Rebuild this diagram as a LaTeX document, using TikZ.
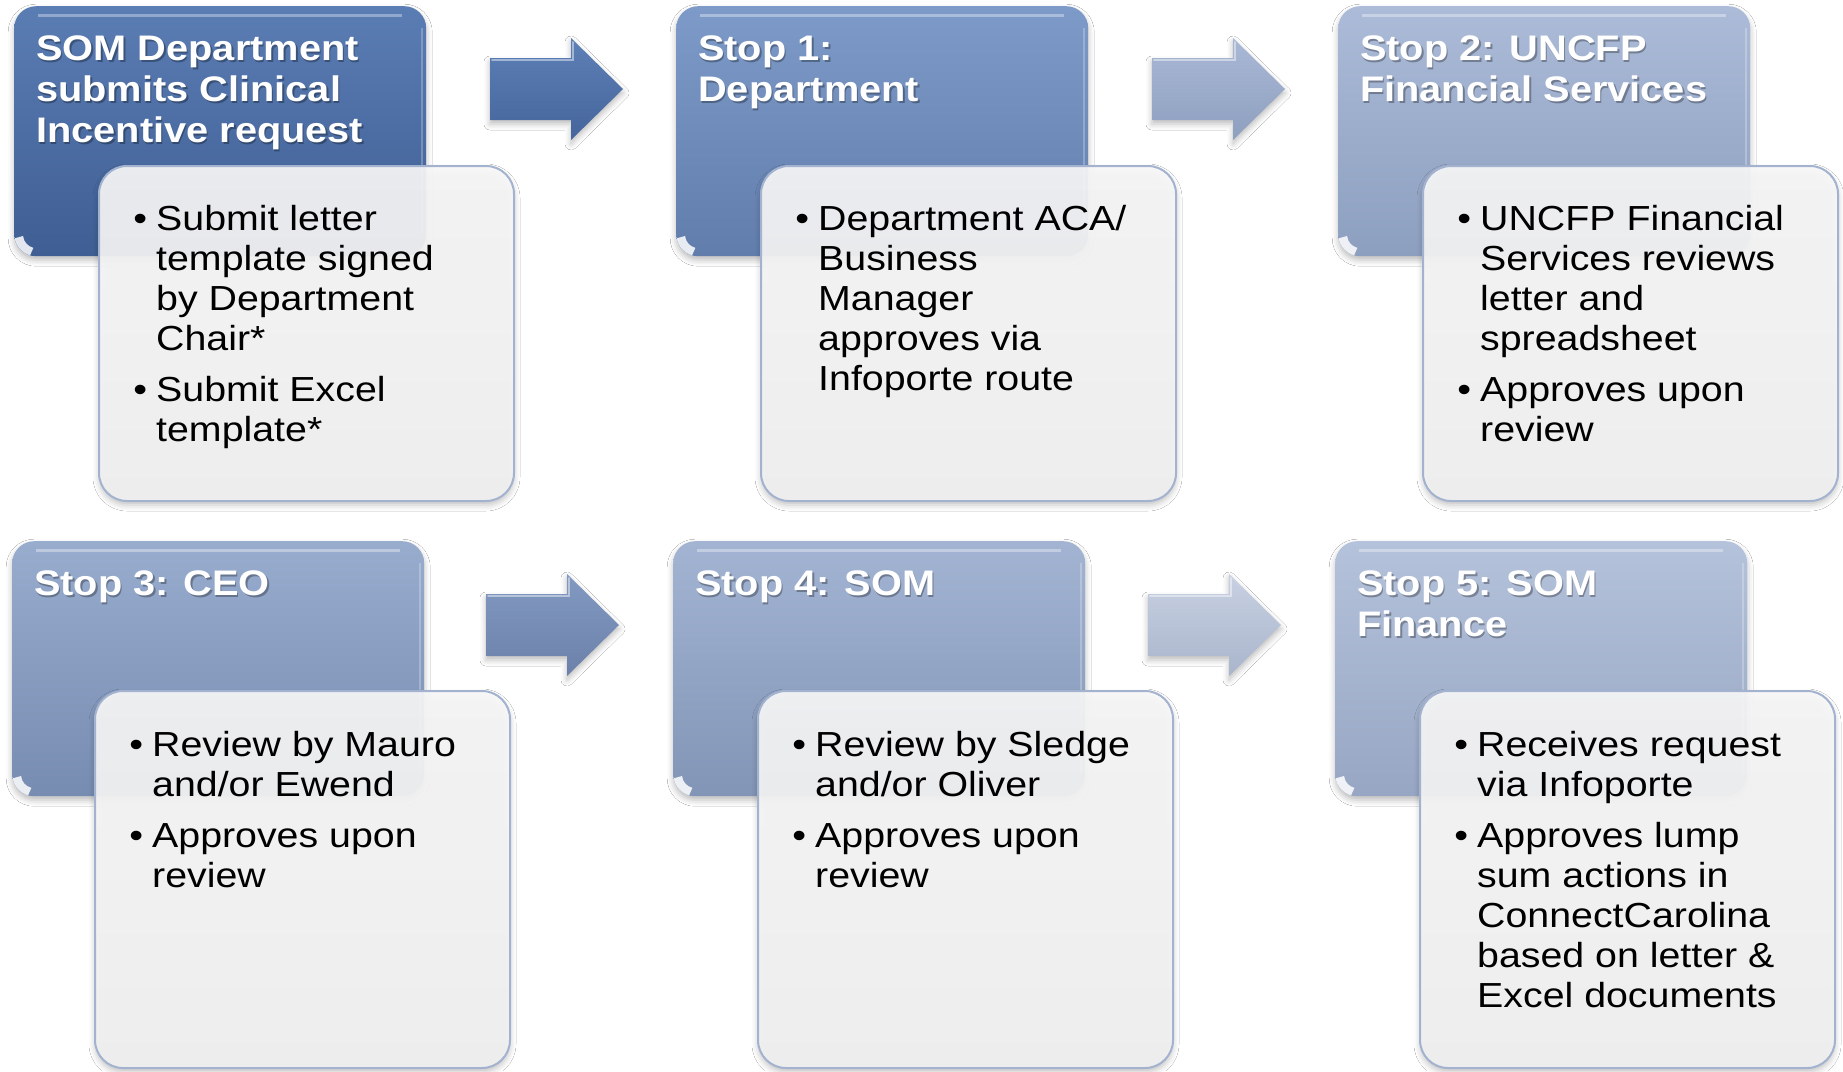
\documentclass[tikz,border=0pt]{standalone}
\usepackage{fontspec}
\setmainfont{Liberation Sans}
\newfontfamily\bodyfont[FakeStretch=1.13]{Liberation Sans}
\newfontfamily\headfont[FakeStretch=1.12]{Liberation Sans}
\usetikzlibrary{shadows.blur}

% stage colours (top / bottom of each gradient)
\definecolor{aTop}{HTML}{5A7DB4}\definecolor{aBot}{HTML}{3F5E93}
\definecolor{bTop}{HTML}{7D9AC8}\definecolor{bBot}{HTML}{617DAC}
\definecolor{cTop}{HTML}{ABBBD8}\definecolor{cBot}{HTML}{8D9FBF}
\definecolor{dTop}{HTML}{98ACCE}\definecolor{dBot}{HTML}{778CB1}
\definecolor{eTop}{HTML}{A3B4D3}\definecolor{eBot}{HTML}{8295B6}
\definecolor{fTop}{HTML}{B4C2DB}\definecolor{fBot}{HTML}{97A6C3}
% arrow colours
\definecolor{p1Top}{HTML}{5D80B7}\definecolor{p1Bot}{HTML}{45659C}
\definecolor{p2Top}{HTML}{A9B8D5}\definecolor{p2Bot}{HTML}{8E9FBF}
\definecolor{p3Top}{HTML}{8299C1}\definecolor{p3Bot}{HTML}{6B81A9}
\definecolor{p4Top}{HTML}{C8D1E2}\definecolor{p4Bot}{HTML}{A9B5CC}
% note boxes
\definecolor{noteTop}{HTML}{F8F8F8}\definecolor{noteBot}{HTML}{F1F1F1}
\definecolor{noteRim}{HTML}{A3B3CF}

\newcommand\bul{\makebox[0pt][r]{\textbullet\hspace{9pt}}}

\tikzset{
  softshadow/.style={blur shadow={shadow xshift=0pt, shadow yshift=-4pt,
      shadow blur radius=6pt, shadow opacity=26}},
  stagebox/.style={rectangle, rounded corners=22pt, inner sep=0pt,
      minimum width=412pt, anchor=north west, softshadow,
      path picture={
        \draw[white, opacity=.85, line width=9pt]
          ([xshift=4.5pt,yshift=19pt]path picture bounding box.south west)
          arc[start angle=187, end angle=255, radius=17.5pt];
        \draw[white, opacity=.35, line width=3pt]
          ([xshift=24pt,yshift=-9pt]path picture bounding box.north west) --
          ([xshift=-24pt,yshift=-9pt]path picture bounding box.north east);
        \draw[white, opacity=.25, line width=2pt]
          ([xshift=-4pt,yshift=-22pt]path picture bounding box.north east) --
          ([xshift=-4pt,yshift=22pt]path picture bounding box.south east);
      }},
  notebox/.style={rectangle, rounded corners=28pt, inner sep=0pt,
      minimum width=415pt, anchor=north west, draw=noteRim, line width=2pt,
      top color=noteTop, bottom color=noteBot, fill opacity=.92, softshadow},
  headtext/.style={anchor=base west, inner sep=0pt, text=white,
      font=\headfont\bfseries\fontsize{35.5}{41}\selectfont},
  headshade/.style={headtext, text=black, text opacity=.3},
  bodytext/.style={anchor=base west, inner sep=0pt, text=black,
      font=\bodyfont\fontsize{34.8}{40}\selectfont},
}

% block arrow: #1 left x, #2 centre y, #3 top colour, #4 bottom colour
\newcommand\blockarrow[4]{%
  \path[top color=#3, bottom color=#4, softshadow]
    (#1,#2-31) -- (#1+81,#2-31) -- (#1+81,#2-51) -- (#1+133,#2)
    -- (#1+81,#2+51) -- (#1+81,#2+31) -- (#1,#2+31) -- cycle;
  \draw[white, opacity=.45, line width=2pt, line cap=round]
    (#1+2,#2-29) -- (#1+83,#2-29) -- (#1+83,#2-47);
}

% stage title with a soft drop shadow: #1 name, #2 x, #3 y, #4 lines
\newcommand\stagetitle[4]{%
  \node[headshade] (#1-shade) at (#2+1.5,#3+2.5)
    {\begin{tabular}[t]{@{}l@{}}#4\end{tabular}};
  \node[headtext] (#1) at (#2,#3)
    {\begin{tabular}[t]{@{}l@{}}#4\end{tabular}};
}

\begin{document}
\begin{tikzpicture}[x=1pt,y=-1pt]
\useasboundingbox[fill=white] (0,0) rectangle (1843,1071);

% ---------------- first row ----------------
\node[stagebox, minimum height=250pt, top color=aTop, bottom color=aBot] (boxA) at (14,6) {};
\node[stagebox, minimum height=250pt, top color=bTop, bottom color=bBot] (boxB) at (676,6) {};
\node[stagebox, minimum height=250pt, top color=cTop, bottom color=cBot] (boxC) at (1338,6) {};

\node[notebox, minimum height=335pt] (noteA) at (98,165) {};
\node[notebox, minimum height=335pt] (noteB) at (760,165) {};
\node[notebox, minimum height=335pt] (noteC) at (1422,165) {};

\blockarrow{490}{89}{p1Top}{p1Bot}
\blockarrow{1152}{89}{p2Top}{p2Bot}

% ---------------- second row ----------------
\node[stagebox, minimum height=255pt, top color=dTop, bottom color=dBot] (boxD) at (12,541) {};
\node[stagebox, minimum height=255pt, top color=eTop, bottom color=eBot] (boxE) at (673,541) {};
\node[stagebox, minimum height=255pt, top color=fTop, bottom color=fBot] (boxF) at (1335,541) {};

\node[notebox, minimum height=377pt] (noteD) at (94,690) {};
\node[notebox, minimum height=377pt] (noteE) at (757,690) {};
\node[notebox, minimum height=377pt] (noteF) at (1419,690) {};

\blockarrow{486}{625}{p3Top}{p3Bot}
\blockarrow{1148}{625}{p4Top}{p4Bot}

% ---------------- titles ----------------
\stagetitle{titleA}{36}{60}{SOM Department\\submits Clinical\\Incentive request}
\stagetitle{titleB}{698}{60}{Stop 1:\\Department}
\stagetitle{titleC}{1360}{60}{Stop 2: UNCFP\\Financial Services}
\stagetitle{titleD}{34}{595}{Stop 3: CEO}
\stagetitle{titleE}{695}{595}{Stop 4: SOM}
\stagetitle{titleF}{1357}{595}{Stop 5: SOM\\Finance}

% ---------------- bullet texts ----------------
\node[bodytext] (textA) at (156,230) {\begin{tabular}[t]{@{}l@{}}
  \bul Submit letter\\template signed\\by Department\\Chair*\\[11pt]
  \bul Submit Excel\\template*\end{tabular}};
\node[bodytext] (textB) at (818,230) {\begin{tabular}[t]{@{}l@{}}
  \bul Department ACA/\\Business\\Manager\\approves via\\Infoporte route\end{tabular}};
\node[bodytext] (textC) at (1480,230) {\begin{tabular}[t]{@{}l@{}}
  \bul UNCFP Financial\\Services reviews\\letter and\\spreadsheet\\[11pt]
  \bul Approves upon\\review\end{tabular}};
\node[bodytext] (textD) at (152,756) {\begin{tabular}[t]{@{}l@{}}
  \bul Review by Mauro\\and/or Ewend\\[11pt]
  \bul Approves upon\\review\end{tabular}};
\node[bodytext] (textE) at (815,756) {\begin{tabular}[t]{@{}l@{}}
  \bul Review by Sledge\\and/or Oliver\\[11pt]
  \bul Approves upon\\review\end{tabular}};
\node[bodytext] (textF) at (1477,756) {\begin{tabular}[t]{@{}l@{}}
  \bul Receives request\\via Infoporte\\[11pt]
  \bul Approves lump\\sum actions in\\ConnectCarolina\\based on letter \&\\Excel documents\end{tabular}};
\end{tikzpicture}
\end{document}
